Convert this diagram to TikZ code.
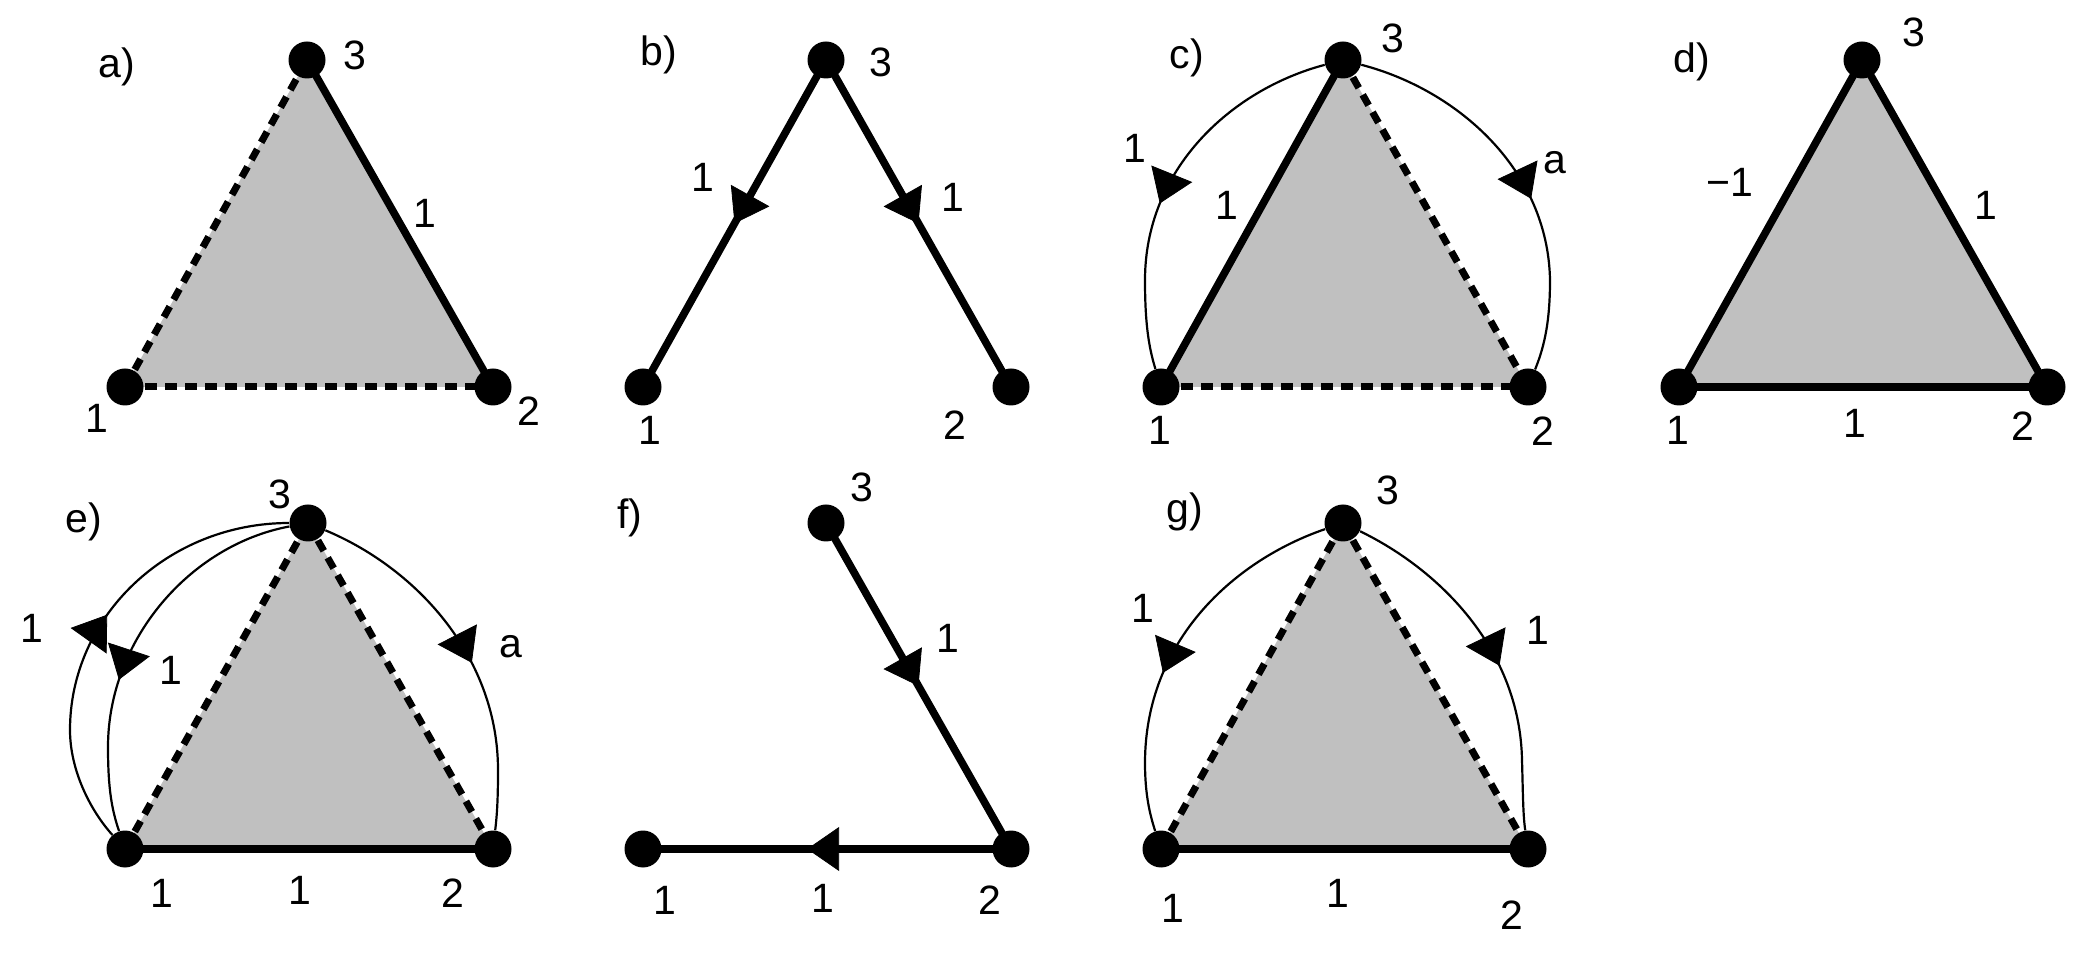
\documentclass[tikz,border=0pt]{standalone}
\usepackage{fontspec}
\setmainfont{Liberation Sans}
\usetikzlibrary{arrows.meta,decorations.markings}
\pgfdeclarelayer{background}
\pgfsetlayers{background,main}
\definecolor{facegray}{HTML}{C0C0C0}
\begin{document}
\begin{tikzpicture}[x=0.5pt,y=-0.5pt,
  vtx/.style={circle,fill=black,inner sep=0pt,minimum size=18.5pt},
  face/.style={fill=facegray},
  solidedge/.style={line width=3.8pt},
  dashedge/.style={line width=3.5pt,dash pattern=on 6pt off 4pt},
  thinarc/.style={line width=1.1pt},
  lbl/.style={inner sep=0pt,font=\fontsize{20.5}{24}\selectfont},
  arrowat/.style={postaction={decorate},decoration={markings,mark=at position #1 with {\arrow{Triangle[length=16pt,width=22pt,line width=0.4pt]}}}}
]
\useasboundingbox (0,0) rectangle (2084,956);

% ---------- vertices ----------
\node[vtx] (a1) at (125,387) {}; \node[vtx] (a2) at (493,387) {}; \node[vtx] (a3) at (307,60) {};
\node[vtx] (b1) at (643,387) {}; \node[vtx] (b2) at (1011,387) {}; \node[vtx] (b3) at (826,60) {};
\node[vtx] (c1) at (1161,387) {}; \node[vtx] (c2) at (1528,387) {}; \node[vtx] (c3) at (1343,60) {};
\node[vtx] (d1) at (1679,387) {}; \node[vtx] (d2) at (2047,387) {}; \node[vtx] (d3) at (1862,60) {};
\node[vtx] (e1) at (125,849) {}; \node[vtx] (e2) at (493,849) {}; \node[vtx] (e3) at (308,523) {};
\node[vtx] (f1) at (643,849) {}; \node[vtx] (f2) at (1011,849) {}; \node[vtx] (f3) at (826,523) {};
\node[vtx] (g1) at (1161,849) {}; \node[vtx] (g2) at (1528,849) {}; \node[vtx] (g3) at (1343,523) {};

\begin{pgfonlayer}{background}
% a
\fill[face] (a1.center) -- (a2.center) -- (a3.center) -- cycle;
\draw[dashedge] (a1.center) -- (a2.center);
\draw[dashedge] (a1.center) -- (a3.center);
\draw[solidedge] (a3.center) -- (a2.center);
% b
\draw[solidedge,arrowat=0.5] (b3.center) -- (b1.center);
\draw[solidedge,arrowat=0.5] (b3.center) -- (b2.center);
% c
\fill[face] (c1.center) -- (c2.center) -- (c3.center) -- cycle;
\draw[dashedge] (c1.center) -- (c2.center);
\draw[dashedge] (c3.center) -- (c2.center);
\draw[solidedge] (c3.center) -- (c1.center);
% d
\fill[face] (d1.center) -- (d2.center) -- (d3.center) -- cycle;
\draw[solidedge] (d1.center) -- (d2.center);
\draw[solidedge] (d3.center) -- (d2.center);
\draw[solidedge] (d3.center) -- (d1.center);
% e
\fill[face] (e1.center) -- (e2.center) -- (e3.center) -- cycle;
\draw[solidedge] (e1.center) -- (e2.center);
\draw[dashedge] (e1.center) -- (e3.center);
\draw[dashedge] (e3.center) -- (e2.center);
% f
\draw[solidedge,arrowat=0.5] (f3.center) -- (f2.center);
\draw[solidedge,arrowat=0.554] (f2.center) -- (f1.center);
% g
\fill[face] (g1.center) -- (g2.center) -- (g3.center) -- cycle;
\draw[solidedge] (g1.center) -- (g2.center);
\draw[dashedge] (g1.center) -- (g3.center);
\draw[dashedge] (g3.center) -- (g2.center);
\end{pgfonlayer}

% ---------- arcs ----------
\draw[thinarc,arrowat=0.57] (c3) .. controls (1230,90) and (1145,170) .. (1145,280) .. controls (1145,320) and (1148,345) .. (c1);
\draw[thinarc,arrowat=0.56] (c3) .. controls (1458,90) and (1548,170) .. (1550,280) .. controls (1550,320) and (1545,345) .. (c2);

\draw[thinarc,arrowat=0.53] (e1) .. controls (90,810) and (70,770) .. (70,730) .. controls (70,616) and (168,523) .. (e3);
\draw[thinarc,arrowat=0.61] (e3) .. controls (190,545) and (108,640) .. (108,747) .. controls (108,790) and (112,810) .. (e1);
\draw[thinarc,arrowat=0.54] (e3) .. controls (420,570) and (498,660) .. (498,770) .. controls (498,800) and (497,815) .. (e2);

\draw[thinarc,arrowat=0.58] (g3) .. controls (1235,560) and (1145,640) .. (1145,763) .. controls (1145,795) and (1150,815) .. (g1);
\draw[thinarc,arrowat=0.54] (g3) .. controls (1440,570) and (1520,650) .. (1522,760) .. controls (1523,795) and (1523,815) .. (g2);

% ---------- labels ----------
% a
\node[lbl] (la) at (117,67) {a)};
\node[lbl] (la3) at (355,55) {3};
\node[lbl] (la32) at (425,213) {1};
\node[lbl] (la1) at (97,418) {1};
\node[lbl] (la2) at (529,411) {2};
% b
\node[lbl] (lb) at (659,55) {b)};
\node[lbl] (lb3) at (881,62) {3};
\node[lbl] (lb31) at (703,177) {1};
\node[lbl] (lb32) at (953,197) {1};
\node[lbl] (lb1) at (650,430) {1};
\node[lbl] (lb2) at (955,425) {2};
% c
\node[lbl] (lc) at (1187,58) {c)};
\node[lbl] (lc3) at (1393,38) {3};
\node[lbl] (lcarc) at (1135,148) {1};
\node[lbl] (lc31) at (1227,205) {1};
\node[lbl] (lca) at (1555,163) {a};
\node[lbl] (lc1) at (1160,430) {1};
\node[lbl] (lc2) at (1543,431) {2};
% d
\node[lbl] (ld) at (1692,62) {d)};
\node[lbl] (ld3) at (1914,32) {3};
\node[lbl] (ld31) at (1730,182) {−1};
\node[lbl] (ld32) at (1986,205) {1};
\node[lbl] (ld1) at (1678,430) {1};
\node[lbl] (ld12) at (1855,423) {1};
\node[lbl] (ld2) at (2023,426) {2};
% e
\node[lbl] (le) at (84,522) {e)};
\node[lbl] (le3) at (280,494) {3};
\node[lbl] (leout) at (32,628) {1};
\node[lbl] (lein) at (171,670) {1};
\node[lbl] (lea) at (511,647) {a};
\node[lbl] (le1) at (162,893) {1};
\node[lbl] (le12) at (300,890) {1};
\node[lbl] (le2) at (453,893) {2};
% f
\node[lbl] (lf) at (630,518) {f)};
\node[lbl] (lf3) at (862,487) {3};
\node[lbl] (lf32) at (948,638) {1};
\node[lbl] (lf1) at (665,900) {1};
\node[lbl] (lf12) at (823,898) {1};
\node[lbl] (lf2) at (990,900) {2};
% g
\node[lbl] (lg) at (1185,512) {g)};
\node[lbl] (lg3) at (1388,490) {3};
\node[lbl] (lgl) at (1143,608) {1};
\node[lbl] (lgr) at (1538,630) {1};
\node[lbl] (lg1) at (1173,908) {1};
\node[lbl] (lg12) at (1338,893) {1};
\node[lbl] (lg2) at (1512,915) {2};
\end{tikzpicture}
\end{document}
